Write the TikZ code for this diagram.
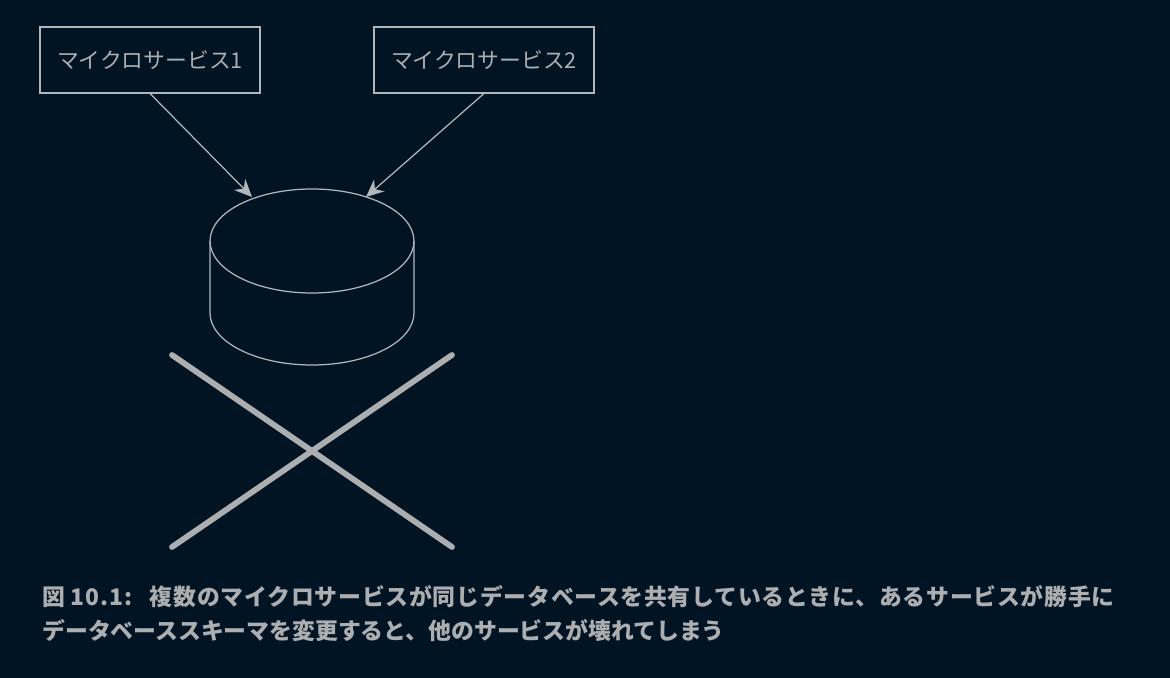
\documentclass[tikz,border=0pt]{standalone}
\usepackage{fontspec}
\setmainfont{Noto Sans CJK JP}
\newfontfamily\spacedfont[LetterSpace=3.4]{Noto Sans CJK JP}
\usetikzlibrary{arrows.meta}
\definecolor{bgcol}{HTML}{011424}
\definecolor{linecol}{HTML}{B4B7BA}
\definecolor{textcol}{HTML}{ACAEB0}
\tikzset{
  svcbox/.style={draw=linecol,line width=0.6pt,text=textcol,minimum width=4.4cm,minimum height=1.32cm,inner sep=0pt,font=\fontsize{12.4}{14}\selectfont},
  link/.style={draw=linecol,line width=0.7pt,-{Stealth[length=10pt,width=9pt,fill=linecol]}},
  dbline/.style={draw=linecol,line width=0.7pt},
  crossline/.style={draw=textcol,line width=3.3pt,line cap=round},
  caption/.style={text=textcol,anchor=west,inner sep=0pt,font=\fontsize{13}{14}\selectfont\bfseries},
}
\begin{document}
\begin{tikzpicture}[x=0.02cm,y=-0.02cm]
  \fill[bgcol](0,0)rectangle(1170,678);
  \useasboundingbox(0,0)rectangle(1170,678);
  \node[svcbox](svcone)at(150,60){マイクロサービス1};
  \node[svcbox](svctwo)at(484,60){マイクロサービス2};
  \coordinate(dbleft)at(252,197);
  \coordinate(dbright)at(366,197);
  \draw[link](svcone.south)--(dbleft);
  \draw[link](svctwo.south)--(dbright);
  % cylinder
  \draw[dbline](312,241)ellipse[x radius=102,y radius=52];
  \draw[dbline](210,241)--(210,313)arc[start angle=180,end angle=0,x radius=102,y radius=52]--(414,241);
  % cross
  \coordinate(crossa)at(172,355);
  \coordinate(crossb)at(452,547);
  \coordinate(crossc)at(452,355);
  \coordinate(crossd)at(172,547);
  \draw[crossline](crossa)--(crossb);
  \draw[crossline](crossc)--(crossd);
  \node[caption](capone)at(42,597){\spacedfont 図\kern3pt 1\kern.6pt 0\kern.6pt.\kern.6pt 1\kern.6pt:\kern10pt 複数のマイクロサービスが同じデータベースを共有しているときに、あるサービスが勝手に};
  \node[caption](captwo)at(42,631){データベーススキーマを変更すると、他のサービスが壊れてしまう};
\end{tikzpicture}
\end{document}
